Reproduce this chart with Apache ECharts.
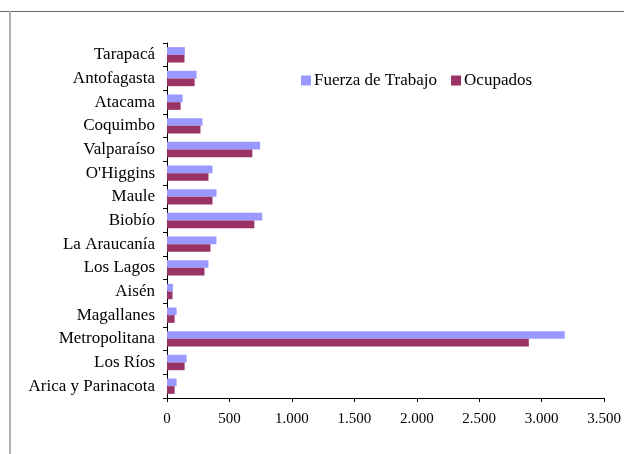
<!DOCTYPE html>
<html>
<head>
<meta charset="utf-8">
<script src="https://cdn.jsdelivr.net/npm/echarts@6/dist/echarts.min.js"></script>
<style>
html,body{margin:0;padding:0;background:#fff;}
#main{width:624px;height:454px;}
</style>
</head>
<body>
<div id="main"></div>
<script>
// regiones (de arriba hacia abajo en el grafico)
var regiones = ['Tarapacá','Antofagasta','Atacama','Coquimbo','Valparaíso',"O'Higgins",'Maule','Biobío',
  'La Araucanía','Los Lagos','Aisén','Magallanes','Metropolitana','Los Ríos','Arica y Parinacota'];
var fuerzaTrabajo = [143, 237, 125, 284, 746, 364, 396, 762, 396, 332, 47, 77, 3184, 157, 77];
var ocupados = [140, 221, 109, 268, 683, 332, 364, 699, 348, 300, 44, 61, 2897, 141, 61];
var ticksX = [0, 500, 1000, 1500, 2000, 2500, 3000, 3500];

var fuente = '"Liberation Serif", "DejaVu Serif", serif';
var chart = echarts.init(document.getElementById('main'));

chart.setOption({
  animation: false,
  textStyle: { fontFamily: fuente },
  graphic: [
    { type: 'rect', shape: { x: 0, y: 11, width: 624, height: 1 }, style: { fill: '#666' } },
    { type: 'rect', shape: { x: 9, y: 11, width: 2, height: 443 }, style: { fill: '#b0b0b0' } }
  ],
  legend: {
    left: 296, top: 67,
    itemWidth: 10, itemHeight: 10, itemGap: 14,
    icon: 'rect',
    textStyle: { fontFamily: fuente, fontSize: 17, color: '#000', padding: [0, 0, 0, -2] },
    data: ['Fuerza de Trabajo', 'Ocupados']
  },
  grid: { left: 167, right: 17, top: 43, bottom: 56, containLabel: false },
  xAxis: {
    type: 'value', min: 0, max: 3500, interval: 500,
    axisLine: { show: true, lineStyle: { color: '#000', width: 1 } },
    axisTick: { show: true, length: 4, lineStyle: { color: '#000' } },
    splitLine: { show: false },
    axisLabel: {
      margin: 14, color: '#000', fontSize: 15, fontFamily: fuente,
      formatter: function (v) {
        return String(v).replace(/\B(?=(\d{3})+(?!\d))/g, '.');
      }
    }
  },
  yAxis: {
    type: 'category', inverse: true, data: regiones,
    axisLine: { show: true, lineStyle: { color: '#000', width: 1 } },
    axisTick: { show: true, length: 4, inside: false, lineStyle: { color: '#000' } },
    axisLabel: { margin: 12, color: '#000', fontSize: 17, fontFamily: fuente }
  },
  series: [
    {
      name: 'Fuerza de Trabajo', type: 'bar', data: fuerzaTrabajo,
      barGap: '0%', barCategoryGap: '35%',
      itemStyle: { color: '#9999FF' }
    },
    {
      name: 'Ocupados', type: 'bar', data: ocupados,
      barGap: '0%', barCategoryGap: '35%',
      itemStyle: { color: '#993366' }
    }
  ]
});
</script>
</body>
</html>
